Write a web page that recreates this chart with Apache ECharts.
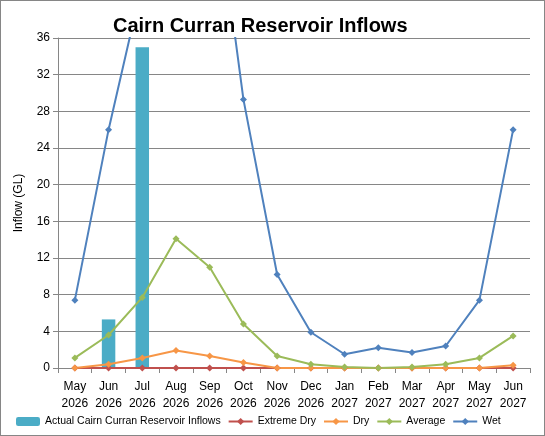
<!DOCTYPE html>
<html><head><meta charset="utf-8">
<script src="https://cdn.jsdelivr.net/npm/echarts@6/dist/echarts.min.js"></script>
<style>html,body{margin:0;padding:0;background:#fff}#c{width:543px;height:434px;border:1px solid #868686}</style>
</head><body><div id="c"></div>
<script>
const categories=['May\n2026','Jun\n2026','Jul\n2026','Aug\n2026','Sep\n2026','Oct\n2026','Nov\n2026','Dec\n2026','Jan\n2027','Feb\n2027','Mar\n2027','Apr\n2027','May\n2027','Jun\n2027'];
const actual=[null,5.3,35,null,null,null,null,null,null,null,null,null,null,null];
const extremeDry=[0,0,0,0,0,0,0,0,0,0,0,0,0,0];
const dry=[0,0.4,1.1,1.9,1.3,0.6,0,0,0,0,0,0,0,0.3];
const average=[1.1,3.6,7.7,14.1,11,4.8,1.3,0.4,0.1,0,0.1,0.4,1.1,3.5];
const wet=[7.4,26,42,52,57,29.3,10.2,3.9,1.5,2.2,1.7,2.4,7.4,26];
const ch=echarts.init(document.getElementById('c'));
const ls=(name,data,color,sym)=>({name,type:'line',data,color,symbol:sym,symbolSize:7,lineStyle:{width:2,color},itemStyle:{color},clip:true});
ch.setOption({
 title:{text:'Cairn Curran Reservoir Inflows',left:107,top:10,textStyle:{fontFamily:'Liberation Sans',fontWeight:'bold',fontSize:20,color:'#000'}},
 legend:{bottom:3,left:10,right:4,itemGap:7,itemWidth:24,itemHeight:9,textStyle:{fontFamily:'Liberation Sans',fontSize:10.5,color:'#000'},
   data:['Actual Cairn Curran Reservoir Inflows','Extreme Dry','Dry','Average','Wet']},
 grid:{left:57,right:14,top:37,bottom:67},
 xAxis:{type:'category',data:categories,axisTick:{show:true,alignWithLabel:false},axisLine:{lineStyle:{color:'#868686'}},
   axisLabel:{color:'#000',fontFamily:'Liberation Sans',fontSize:12,lineHeight:17,margin:10,interval:0}},
 yAxis:{type:'value',min:0,max:36,interval:4,name:'Inflow (GL)',nameLocation:'middle',nameGap:33,
   nameTextStyle:{fontFamily:'Liberation Sans',fontSize:12,color:'#000'},
   axisLine:{show:true,lineStyle:{color:'#868686'}},axisTick:{show:true},splitLine:{lineStyle:{color:'#868686'}},
   axisLabel:{color:'#000',fontFamily:'Liberation Sans',fontSize:12}},
 series:[
  {name:'Actual Cairn Curran Reservoir Inflows',type:'bar',data:actual,barWidth:'40%',itemStyle:{color:'#4bacc6'}},
  ls('Extreme Dry',extremeDry,'#c0504d','diamond'),
  ls('Dry',dry,'#f79646','diamond'),
  ls('Average',average,'#9bbb59','diamond'),
  ls('Wet',wet,'#4f81bd','diamond')
 ]
});
</script></body></html>
